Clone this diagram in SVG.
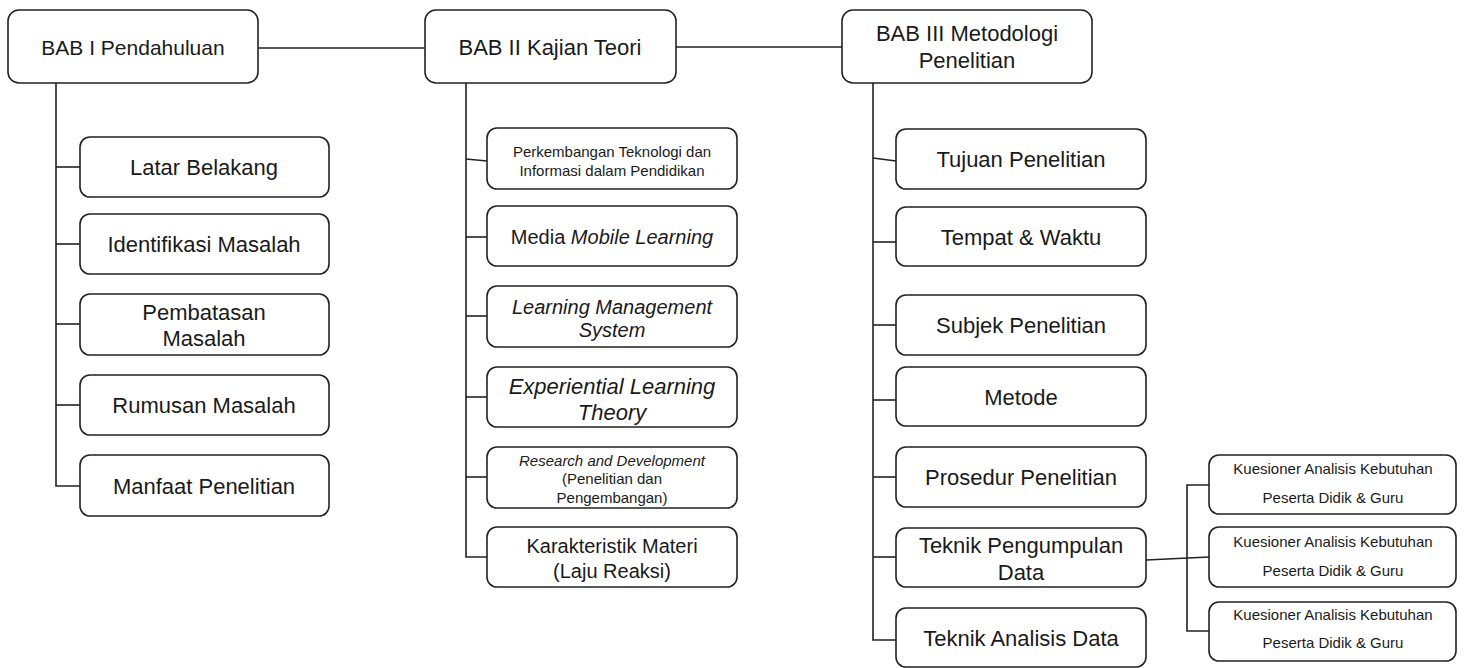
<svg xmlns="http://www.w3.org/2000/svg" width="1469" height="668" viewBox="0 0 1469 668">
<style>
.box{fill:#fff;stroke:#222;stroke-width:1.6}
.ln{fill:none;stroke:#222;stroke-width:1.6}
text{font-family:"Liberation Sans",Arial,sans-serif;fill:#1a1a1a;text-anchor:middle;dominant-baseline:central}
.t22{font-size:22px}
.t21{font-size:21px}
.t20{font-size:20px}
.t15{font-size:15px}
.i{font-style:italic}
</style>
<rect width="1469" height="668" fill="#fff"/>
<g id="connectors">
<line class="ln" x1="258" y1="48" x2="425" y2="48"/>
<line class="ln" x1="676" y1="47" x2="842" y2="47"/>
<polyline class="ln" points="56,83 56,486 80,486"/>
<line class="ln" x1="56" y1="167" x2="80" y2="167"/>
<line class="ln" x1="56" y1="244" x2="80" y2="244"/>
<line class="ln" x1="56" y1="324" x2="80" y2="324"/>
<line class="ln" x1="56" y1="405" x2="80" y2="405"/>
<polyline class="ln" points="466,83 466,557 487,557"/>
<line class="ln" x1="466" y1="159" x2="487" y2="161"/>
<line class="ln" x1="466" y1="237" x2="487" y2="237"/>
<line class="ln" x1="466" y1="316" x2="487" y2="316"/>
<line class="ln" x1="466" y1="397" x2="487" y2="397"/>
<line class="ln" x1="466" y1="477" x2="487" y2="477"/>
<polyline class="ln" points="873,83 873,640 896,640"/>
<line class="ln" x1="873" y1="158" x2="896" y2="161"/>
<line class="ln" x1="873" y1="242" x2="896" y2="242"/>
<line class="ln" x1="873" y1="325" x2="896" y2="325"/>
<line class="ln" x1="873" y1="400" x2="896" y2="400"/>
<line class="ln" x1="873" y1="477" x2="896" y2="477"/>
<line class="ln" x1="873" y1="557" x2="896" y2="557"/>
<line class="ln" x1="1146" y1="560" x2="1209" y2="557"/>
<polyline class="ln" points="1209,485 1187,485 1187,631 1209,631"/>
</g>
<g id="bab1"><rect class="box" x="8" y="10" width="250" height="73" rx="11"/><text class="t21" x="133" y="47">BAB I Pendahuluan</text></g>
<g id="bab2"><rect class="box" x="425" y="10" width="251" height="73" rx="11"/><text class="t22" x="550" y="47">BAB II Kajian Teori</text></g>
<g id="bab3"><rect class="box" x="842" y="10" width="250" height="73" rx="11"/><text class="t22" x="967" y="33">BAB III Metodologi</text><text class="t22" x="967" y="60">Penelitian</text></g>

<g id="latar"><rect class="box" x="80" y="137" width="249" height="60" rx="10"/><text class="t22" x="204" y="167">Latar Belakang</text></g>
<g id="identifikasi"><rect class="box" x="80" y="214" width="249" height="60" rx="10"/><text class="t22" x="204" y="244">Identifikasi Masalah</text></g>
<g id="pembatasan"><rect class="box" x="80" y="294" width="249" height="61" rx="10"/><text class="t22" x="204" y="312">Pembatasan</text><text class="t22" x="204" y="338">Masalah</text></g>
<g id="rumusan"><rect class="box" x="80" y="375" width="249" height="60" rx="10"/><text class="t22" x="204" y="405">Rumusan Masalah</text></g>
<g id="manfaat"><rect class="box" x="80" y="455" width="249" height="61" rx="10"/><text class="t22" x="204" y="486">Manfaat Penelitian</text></g>

<g id="perkembangan"><rect class="box" x="487" y="128" width="250" height="61" rx="10"/><text class="t15" x="612" y="151">Perkembangan Teknologi dan</text><text class="t15" x="612" y="170">Informasi dalam Pendidikan</text></g>
<g id="media"><rect class="box" x="487" y="206" width="250" height="60" rx="10"/><text class="t20" x="612" y="237">Media <tspan class="i">Mobile Learning</tspan></text></g>
<g id="lms"><rect class="box" x="487" y="286" width="250" height="61" rx="10"/><text class="t20 i" x="612" y="307">Learning Management</text><text class="t20 i" x="612" y="330">System</text></g>
<g id="elt"><rect class="box" x="487" y="367" width="250" height="60" rx="10"/><text class="t22 i" x="612" y="386">Experiential Learning</text><text class="t22 i" x="612" y="412">Theory</text></g>
<g id="rnd"><rect class="box" x="487" y="447" width="250" height="61" rx="10"/><text class="t15 i" x="612" y="460">Research and Development</text><text class="t15" x="612" y="478">(Penelitian dan</text><text class="t15" x="612" y="497">Pengembangan)</text></g>
<g id="karakteristik"><rect class="box" x="487" y="527" width="250" height="60" rx="10"/><text class="t20" x="612" y="546">Karakteristik Materi</text><text class="t20" x="612" y="571">(Laju Reaksi)</text></g>

<g id="tujuan"><rect class="box" x="896" y="129" width="250" height="60" rx="10"/><text class="t22" x="1021" y="159">Tujuan Penelitian</text></g>
<g id="tempat"><rect class="box" x="896" y="207" width="250" height="59" rx="10"/><text class="t22" x="1021" y="237">Tempat &amp; Waktu</text></g>
<g id="subjek"><rect class="box" x="896" y="295" width="250" height="60" rx="10"/><text class="t22" x="1021" y="325">Subjek Penelitian</text></g>
<g id="metode"><rect class="box" x="896" y="367" width="250" height="59" rx="10"/><text class="t22" x="1021" y="397">Metode</text></g>
<g id="prosedur"><rect class="box" x="896" y="447" width="250" height="60" rx="10"/><text class="t22" x="1021" y="477">Prosedur Penelitian</text></g>
<g id="pengumpulan"><rect class="box" x="896" y="528" width="250" height="59" rx="10"/><text class="t22" x="1021" y="545">Teknik Pengumpulan</text><text class="t22" x="1021" y="572">Data</text></g>
<g id="analisis"><rect class="box" x="896" y="608" width="250" height="59" rx="10"/><text class="t22" x="1021" y="638">Teknik Analisis Data</text></g>

<g id="kuesioner1"><rect class="box" x="1209" y="455" width="247" height="59" rx="10"/><text class="t15" x="1333" y="468">Kuesioner Analisis Kebutuhan</text><text class="t15" x="1333" y="497">Peserta Didik &amp; Guru</text></g>
<g id="kuesioner2"><rect class="box" x="1209" y="527" width="247" height="60" rx="10"/><text class="t15" x="1333" y="541">Kuesioner Analisis Kebutuhan</text><text class="t15" x="1333" y="570">Peserta Didik &amp; Guru</text></g>
<g id="kuesioner3"><rect class="box" x="1209" y="602" width="247" height="59" rx="10"/><text class="t15" x="1333" y="614">Kuesioner Analisis Kebutuhan</text><text class="t15" x="1333" y="642">Peserta Didik &amp; Guru</text></g>
</svg>
